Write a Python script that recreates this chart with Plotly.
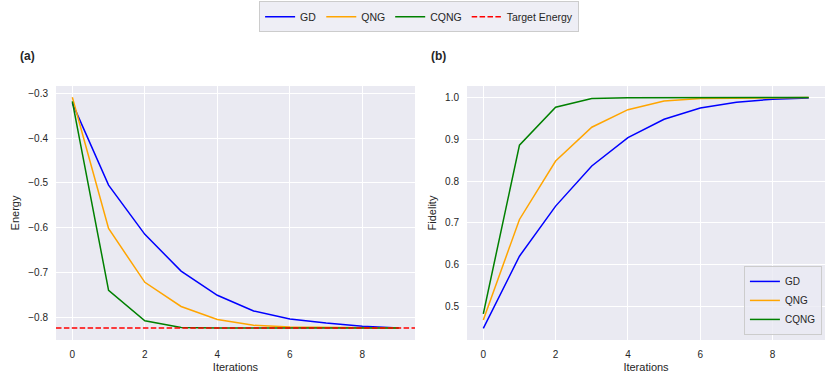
import plotly.graph_objects as go

iterations = list(range(10))

energy_gd = [-0.322, -0.505, -0.615, -0.697, -0.751, -0.786, -0.804, -0.813, -0.820, -0.824]
energy_qng = [-0.309, -0.602, -0.722, -0.776, -0.805, -0.818, -0.822, -0.823, -0.824, -0.824]
energy_cqng = [-0.318, -0.740, -0.808, -0.823, -0.824, -0.824, -0.824, -0.824, -0.824, -0.824]
target_energy = -0.824

fid_gd = [0.447, 0.620, 0.740, 0.836, 0.904, 0.948, 0.975, 0.989, 0.996, 0.999]
fid_qng = [0.467, 0.708, 0.848, 0.929, 0.971, 0.992, 0.998, 0.999, 1.000, 1.000]
fid_cqng = [0.482, 0.886, 0.977, 0.998, 0.9995, 1.000, 1.000, 1.000, 1.000, 1.000]

methods = ["GD", "QNG", "CQNG"]
colors = ["blue", "orange", "green"]

FONT = "Liberation Sans, Arial, sans-serif"
BG = "#EAEAF2"
TXT = "#262626"

fig = go.Figure()

for name, col, ys in zip(methods, colors, [energy_gd, energy_qng, energy_cqng]):
    fig.add_trace(go.Scatter(x=iterations, y=ys, mode="lines", name=name,
                             line=dict(color=col, width=1.5),
                             xaxis="x", yaxis="y", legend="legend"))

for name, col, ys in zip(methods, colors, [fid_gd, fid_qng, fid_cqng]):
    fig.add_trace(go.Scatter(x=iterations, y=ys, mode="lines", name=name,
                             line=dict(color=col, width=1.5),
                             xaxis="x2", yaxis="y2", legend="legend2"))

fig.add_shape(type="line", xref="x domain", yref="y", x0=0, x1=1,
              y0=target_energy, y1=target_energy,
              line=dict(color="red", width=1.5, dash="5.5px,2.4px"),
              showlegend=True, name="Target Energy", legend="legend", legendrank=1000)

axis_common = dict(showgrid=True, gridcolor="white", gridwidth=1, zeroline=False,
                   showline=False, ticks="", tickfont=dict(size=10, color=TXT, family=FONT),
                   ticklabelstandoff=7, automargin=False)

fig.update_layout(
    template="none",
    width=825, height=375, autosize=False,
    margin=dict(l=56, r=0, t=86, b=35, autoexpand=False),
    paper_bgcolor="white", plot_bgcolor=BG,
    font=dict(family=FONT, color=TXT, size=10),
    xaxis=dict(domain=[0, 0.4668], range=[-0.45, 9.45], dtick=2, tick0=0,
               title=dict(text="Iterations", font=dict(size=11), standoff=4), anchor="y", **axis_common),
    yaxis=dict(domain=[0, 1], range=[-0.8508, -0.2838], dtick=0.1, tick0=0, tickformat=".1f",
               title=dict(text="Energy", font=dict(size=11), standoff=6), anchor="x", **axis_common),
    xaxis2=dict(domain=[0.5345, 1], range=[-0.45, 9.45], dtick=2, tick0=0,
                title=dict(text="Iterations", font=dict(size=11), standoff=4), anchor="y2", **axis_common),
    yaxis2=dict(domain=[0, 1], range=[0.4193, 1.0277], dtick=0.1, tick0=0, tickformat=".1f",
                title=dict(text="Fidelity", font=dict(size=11), standoff=6), anchor="x2", **axis_common),
    legend=dict(orientation="h", xref="container", yref="container", x=0.508, y=0.997,
                xanchor="center", yanchor="top", bgcolor="rgba(234,234,242,0.8)",
                bordercolor="#CCCCCC", borderwidth=1, font=dict(size=10.5, color=TXT),
                itemwidth=30, traceorder="normal"),
    legend2=dict(x=0.996, y=0.02, xanchor="right", yanchor="bottom",
                 bgcolor="rgba(234,234,242,0.8)", bordercolor="#CCCCCC", borderwidth=1,
                 font=dict(size=10, color=TXT), itemwidth=30, tracegroupgap=0),
    annotations=[
        dict(text="<b>(a)</b>", xref="paper", yref="paper", x=-0.049, y=1.118,
             xanchor="left", yanchor="middle", showarrow=False, font=dict(size=12, color=TXT)),
        dict(text="<b>(b)</b>", xref="paper", yref="paper", x=0.485, y=1.118,
             xanchor="left", yanchor="middle", showarrow=False, font=dict(size=12, color=TXT)),
    ],
)

fig.write_html("out.html", config={"displayModeBar": False},
               post_script="document.body.style.margin='0';document.body.style.overflow='hidden';")
